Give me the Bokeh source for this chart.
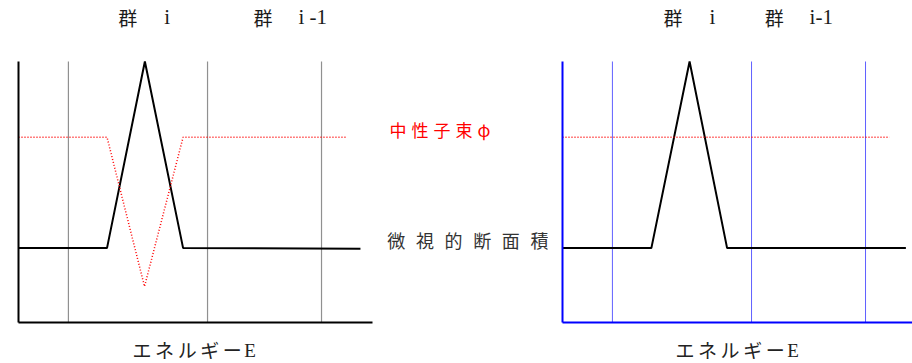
from bokeh.plotting import figure
from bokeh.layouts import row
from bokeh.models import Range1d
from bokeh.core.properties import value
from bokeh.embed import file_html
from bokeh.resources import INLINE

# ---- data (energy axis and values in arbitrary units) ----
group_bounds = [14.1, 53.4, 85.6]

left_sigma_E = [0, 25.0, 35.7, 46.5, 96.6]
left_sigma = [28.5, 28.5, 100, 28.5, 28.3]
left_phi_E = [0, 25.0, 35.6, 46.5, 92.4]
left_phi = [71.0, 71.0, 13.8, 71.0, 71.0]

right_sigma_E = [0, 25.1, 35.9, 46.5, 97.0]
right_sigma = [28.5, 28.5, 100, 28.5, 28.5]
right_phi_E = [0, 92.4]
right_phi = [71.0, 71.0]

title_left = ["群", "i", "群", "i -1"]
title_right = ["群", "i", "群", "i-1"]
flux_label = "中性子束φ"
xs_label = "微視的断面積"
energy_kana = "エネルギー"
energy_sym = "E"

CJK = "Noto Sans CJK JP"
SERIF = "Liberation Serif"

PX_X = 3.54   # pixels per energy unit
PX_Y = 2.61   # pixels per value unit
H = 363


def base_fig(width, left_px, xaxis_end, axis_color, axis_w):
    top_px, bottom_px = 61, 41
    p = figure(width=width, height=H, output_backend="svg", toolbar_location=None,
               x_range=Range1d(-left_px / PX_X, (width - left_px) / PX_X),
               y_range=Range1d(-bottom_px / PX_Y, 100 + top_px / PX_Y),
               min_border=0, title=None)
    p.xgrid.visible = False
    p.ygrid.visible = False
    p.outline_line_color = None
    for ax in (p.xaxis, p.yaxis):
        ax.ticker = []
        ax.fixed_location = 0
        ax.major_tick_line_color = None
        ax.minor_tick_line_color = None
        ax.major_tick_out = 0
        ax.major_tick_in = 0
        ax.major_label_standoff = 0
        ax.major_label_text_font_size = "0px"
        ax.axis_line_color = axis_color
        ax.axis_line_width = axis_w
    p.xaxis.bounds = (0, xaxis_end)
    p.yaxis.bounds = (0, 100)
    return p


def add_titles(p, texts, xs):
    for t, x in zip(texts, xs):
        font = CJK if t == "群" else SERIF
        size = "19px" if t == "群" else "21px"
        p.text(x=[x], y=[117.0], text=[t], text_font=value(font), text_font_size=size,
               text_align="left", text_baseline="middle", text_color="#1a1a1a")


def add_energy(p, x_start):
    pitch = 6.38
    n = len(energy_kana)
    p.text(x=[x_start + i * pitch for i in range(n)], y=[-10.3] * n,
           text=list(energy_kana), text_font=value(CJK),
           text_font_size="19px", text_align="left", text_baseline="middle",
           text_color="#222222")
    p.text(x=[x_start + n * pitch - 0.3], y=[-10.9], text=[energy_sym],
           text_font=value(SERIF), text_font_size="19px", text_align="left",
           text_baseline="middle", text_color="#222222")


# ---- left panel ----
pl = base_fig(548, 18, 100, "black", 2)
for b in group_bounds:
    pl.line([b, b], [0, 100], line_color="#909090", line_width=1.2)
pl.line(left_sigma_E, left_sigma, line_color="black", line_width=2)
pl.line(left_phi_E, left_phi, line_color="red", line_width=1.5, line_dash="1 2")
add_titles(pl, title_left, [28.2, 41.2, 66.4, 79.1])
add_energy(pl, 32.2)

# middle labels (spaced characters)
pl.text(x=[104.8 + i * 6.21 for i in range(len(flux_label))], y=[73.8] * len(flux_label),
        text=list(flux_label), text_font=value(CJK), text_font_size="17px",
        text_align="left", text_baseline="middle", text_color="red")
pl.text(x=[104.2 + i * 8.08 for i in range(len(xs_label))], y=[31.8] * len(xs_label),
        text=list(xs_label), text_font=value(CJK), text_font_size="18px",
        text_align="left", text_baseline="middle", text_color="#333333")

# ---- right panel ----
pr = base_fig(364, 14, 350 / PX_X, "blue", 2)
for b in group_bounds:
    pr.line([b, b], [0, 100], line_color="#6060ff", line_width=1)
pr.line(right_sigma_E, right_sigma, line_color="black", line_width=2)
pr.line(right_phi_E, right_phi, line_color="red", line_width=1.5, line_dash="1 2")
add_titles(pr, title_right, [28.5, 41.5, 57.1, 69.8])
add_energy(pr, 31.9)

layout = row(pl, pr)
open("out.html", "w").write(file_html(layout, INLINE))
